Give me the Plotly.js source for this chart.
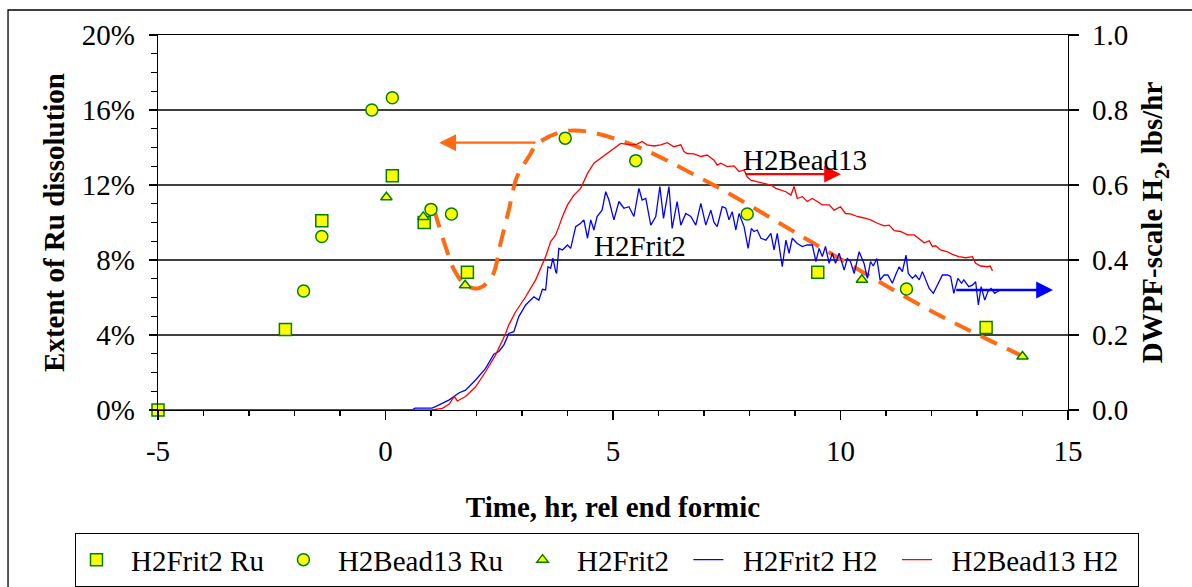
<!DOCTYPE html>
<html>
<head>
<meta charset="utf-8">
<script src="https://cdn.plot.ly/plotly-3.0.1.min.js"></script>
<style>html,body{margin:0;padding:0;background:#fff;}#chart{width:1192px;height:587px;}</style>
</head>
<body>
<div id="chart"></div>
<script>
// Ru dissolution (%), left axis
const frit2RuTime = [-5.0, -2.2, -1.4, 0.15, 0.85, 1.8, 9.5, 13.2];
const frit2RuPct  = [0.0, 4.3, 10.1, 12.5, 10.0, 7.35, 7.35, 4.4];
const bead13RuTime = [-1.8, -1.4, -0.3, 0.15, 1.0, 1.45, 3.95, 5.5, 7.95, 11.45];
const bead13RuPct  = [6.35, 9.25, 16.0, 16.65, 10.7, 10.45, 14.5, 13.3, 10.45, 6.45];
const frit2Time = [0.02, 0.83, 1.75, 10.47, 14.0];
const frit2Pct  = [11.35, 10.3, 6.65, 6.95, 2.85];

// DWPF-scale H2 (lbs/hr), right axis
const frit2H2Time = [-5.0, 0.58, 0.65, 1.02, 1.10, 1.40, 1.62, 1.76, 1.98, 2.20, 2.38, 2.49, 2.60, 2.71, 2.82, 2.93, 3.08, 3.26, 3.37, 3.45, 3.52, 3.57, 3.63, 3.68, 3.74, 3.76, 3.81, 3.89, 4.00, 4.07, 4.18, 4.29, 4.36, 4.44, 4.51, 4.58, 4.65, 4.76, 4.84, 4.91, 5.02, 5.13, 5.24, 5.35, 5.46, 5.57, 5.64, 5.72, 5.83, 5.94, 6.03, 6.11, 6.23, 6.30, 6.41, 6.49, 6.60, 6.71, 6.82, 6.93, 7.04, 7.15, 7.22, 7.29, 7.40, 7.48, 7.55, 7.62, 7.70, 7.77, 7.88, 7.97, 8.04, 8.10, 8.17, 8.25, 8.36, 8.47, 8.54, 8.61, 8.72, 8.80, 8.87, 8.94, 9.05, 9.16, 9.27, 9.38, 9.46, 9.53, 9.60, 9.67, 9.75, 9.82, 9.89, 9.97, 10.08, 10.15, 10.22, 10.30, 10.41, 10.52, 10.59, 10.66, 10.72, 10.80, 10.87, 10.96, 11.04, 11.14, 11.21, 11.29, 11.36, 11.44, 11.49, 11.58, 11.65, 11.73, 11.80, 11.87, 11.95, 12.04, 12.13, 12.24, 12.35, 12.42, 12.49, 12.58, 12.66, 12.71, 12.82, 12.90, 12.97, 13.03, 13.09, 13.17, 13.24, 13.31, 13.39, 13.45, 13.53];
const frit2H2 = [0, 0, 0.005, 0.005, 0.009, 0.027, 0.046, 0.053, 0.080, 0.111, 0.149, 0.156, 0.173, 0.204, 0.209, 0.249, 0.280, 0.302, 0.293, 0.322, 0.320, 0.382, 0.378, 0.405, 0.369, 0.364, 0.431, 0.427, 0.440, 0.431, 0.489, 0.498, 0.507, 0.458, 0.507, 0.480, 0.516, 0.533, 0.582, 0.560, 0.507, 0.556, 0.538, 0.542, 0.516, 0.591, 0.560, 0.564, 0.493, 0.516, 0.596, 0.511, 0.596, 0.484, 0.556, 0.493, 0.524, 0.516, 0.493, 0.551, 0.493, 0.533, 0.500, 0.489, 0.542, 0.538, 0.507, 0.529, 0.480, 0.524, 0.489, 0.431, 0.484, 0.476, 0.480, 0.458, 0.453, 0.471, 0.427, 0.471, 0.382, 0.453, 0.418, 0.458, 0.444, 0.436, 0.440, 0.440, 0.396, 0.431, 0.409, 0.436, 0.391, 0.418, 0.391, 0.418, 0.373, 0.404, 0.396, 0.364, 0.422, 0.390, 0.351, 0.396, 0.384, 0.404, 0.347, 0.360, 0.360, 0.338, 0.360, 0.382, 0.369, 0.413, 0.364, 0.351, 0.360, 0.347, 0.369, 0.347, 0.324, 0.311, 0.333, 0.360, 0.360, 0.356, 0.311, 0.351, 0.338, 0.347, 0.329, 0.333, 0.342, 0.280, 0.329, 0.293, 0.316, 0.324, 0.311, 0.316, 0.320];

const bead13H2Time = [-4.6, 1.02, 1.25, 1.40, 1.51, 1.58, 1.76, 1.98, 2.20, 2.42, 2.64, 2.71, 2.86, 3.08, 3.30, 3.52, 3.63, 3.74, 3.81, 3.89, 4.00, 4.14, 4.29, 4.44, 4.58, 4.73, 4.87, 5.02, 5.17, 5.39, 5.53, 5.64, 5.75, 5.90, 6.05, 6.19, 6.34, 6.49, 6.56, 6.63, 6.78, 6.93, 7.07, 7.22, 7.29, 7.37, 7.51, 7.66, 7.77, 7.88, 7.95, 8.03, 8.17, 8.32, 8.47, 8.58, 8.69, 8.80, 8.91, 8.98, 9.05, 9.16, 9.27, 9.38, 9.49, 9.60, 9.75, 9.86, 10.00, 10.11, 10.22, 10.37, 10.52, 10.66, 10.81, 10.96, 11.07, 11.18, 11.32, 11.47, 11.62, 11.76, 11.84, 11.95, 12.02, 12.09, 12.20, 12.35, 12.46, 12.60, 12.75, 12.90, 12.97, 13.08, 13.22, 13.29, 13.34];
const bead13H2 = [0, 0, 0.0045, 0.016, 0.036, 0.024, 0.036, 0.062, 0.102, 0.147, 0.204, 0.227, 0.262, 0.302, 0.347, 0.409, 0.449, 0.467, 0.489, 0.516, 0.547, 0.573, 0.591, 0.631, 0.658, 0.671, 0.684, 0.698, 0.711, 0.707, 0.709, 0.716, 0.707, 0.704, 0.707, 0.713, 0.702, 0.707, 0.689, 0.684, 0.683, 0.676, 0.680, 0.666, 0.653, 0.658, 0.649, 0.651, 0.636, 0.640, 0.622, 0.613, 0.609, 0.604, 0.600, 0.591, 0.587, 0.582, 0.573, 0.596, 0.564, 0.569, 0.556, 0.564, 0.556, 0.547, 0.547, 0.533, 0.542, 0.524, 0.523, 0.516, 0.512, 0.507, 0.498, 0.491, 0.493, 0.478, 0.476, 0.467, 0.467, 0.453, 0.446, 0.451, 0.436, 0.438, 0.427, 0.422, 0.415, 0.409, 0.406, 0.409, 0.391, 0.384, 0.382, 0.384, 0.371];

// hand-drawn trend (dashed orange), left axis %
const trendTime = [1.07, 1.32, 1.51, 1.76, 2.05, 2.34, 2.53, 2.71, 2.89, 3.15, 3.35, 4.04, 5.24, 7.14, 9.41, 11.68, 12.81, 14.1];
const trendPct  = [10.67, 8.71, 7.47, 6.67, 6.49, 7.11, 8.91, 10.67, 12.44, 13.51, 14.22, 14.9, 14.31, 12.09, 8.89, 5.69, 4.27, 2.76];

const xTicks = [-5, 0, 5, 10, 15];
const leftTicks = [0, 4, 8, 12, 16, 20];
const rightTicks = [0, 0.2, 0.4, 0.6, 0.8, 1.0];

const FONT = '"Liberation Serif", "Times New Roman", serif';
const FS = 29;
const mkLine = '#008000';
const NB = '\u00a0\u00a0';
const lg = s => NB + s + NB;

const traces = [
  {x: frit2H2Time, y: frit2H2, yaxis: 'y2', name: lg('H2Frit2 H2'), mode: 'lines',
   line: {color: '#0000ff', width: 1.3}, legendrank: 4},
  {x: bead13H2Time, y: bead13H2, yaxis: 'y2', name: lg('H2Bead13 H2'), mode: 'lines',
   line: {color: '#ff0000', width: 1.3}, legendrank: 5},
  {x: trendTime, y: trendPct, yaxis: 'y', mode: 'lines', showlegend: false, hoverinfo: 'skip',
   line: {color: '#ff6a13', width: 4, dash: '18px,11px', shape: 'spline', smoothing: 1}},
  {x: frit2RuTime, y: frit2RuPct, yaxis: 'y', name: lg('H2Frit2 Ru'), mode: 'markers', cliponaxis: false,
   marker: {symbol: 'square', size: 12, color: '#ffff00', line: {color: mkLine, width: 1.5}}, legendrank: 1},
  {x: bead13RuTime, y: bead13RuPct, yaxis: 'y', name: lg('H2Bead13 Ru'), mode: 'markers', cliponaxis: false,
   marker: {symbol: 'circle', size: 12, color: '#ffff00', line: {color: mkLine, width: 1.5}}, legendrank: 2},
  {x: frit2Time, y: frit2Pct, yaxis: 'y', name: lg('H2Frit2'), mode: 'markers', cliponaxis: false,
   marker: {symbol: 'triangle-up', size: 10, color: '#ffff00', line: {color: mkLine, width: 1.5}}, legendrank: 3}
];

const layout = {
  width: 1192, height: 587,
  margin: {l: 158, r: 124, t: 35, b: 177, autoexpand: false},
  paper_bgcolor: '#ffffff', plot_bgcolor: '#ffffff',
  font: {family: FONT, size: FS, color: '#000'},
  showlegend: true,
  xaxis: {
    range: [-5, 15], tickvals: xTicks, ticktext: xTicks.map(String),
    showgrid: false, zeroline: false, showline: true, linecolor: '#000', linewidth: 1.3,
    mirror: true,
    ticks: 'outside', ticklen: 9, tickwidth: 1.3, tickcolor: '#000',
    minor: {dtick: 1, ticks: 'outside', ticklen: 5, tickwidth: 1.3, tickcolor: '#000', showgrid: false},
    tickfont: {family: FONT, size: FS}, ticklabelstandoff: 6,
    title: {text: '<b>Time, hr, rel end formic</b>', font: {family: FONT, size: FS}, standoff: 30}
  },
  yaxis: {
    range: [0, 20], tickvals: leftTicks, ticktext: leftTicks.map(v => v + '%'),
    showgrid: true, gridcolor: '#404040', gridwidth: 1.2, zeroline: false,
    showline: true, linecolor: '#000', linewidth: 1.3,
    ticks: 'outside', ticklen: 8, tickwidth: 1.3, tickcolor: '#000',
    minor: {dtick: 1, ticks: 'outside', ticklen: 6, tickwidth: 1.3, tickcolor: '#000', showgrid: false},
    tickfont: {family: FONT, size: FS}, ticklabelstandoff: 8,
    title: {text: '<b>Extent of Ru dissolution</b>', font: {family: FONT, size: FS}, standoff: 8}
  },
  yaxis2: {
    range: [0, 1], overlaying: 'y', side: 'right',
    tickvals: rightTicks, ticktext: rightTicks.map(v => v.toFixed(1)),
    showgrid: false, zeroline: false, showline: true, linecolor: '#000', linewidth: 1.3,
    ticks: 'outside', ticklen: 10, tickwidth: 1.3, tickcolor: '#000',
    tickfont: {family: FONT, size: FS}, ticklabelstandoff: 7,
    title: {text: '<b>DWPF-scale H<sub>2</sub>, lbs/hr</b>', font: {family: FONT, size: FS}, standoff: 14}
  },
  legend: {
    orientation: 'h', x: -0.091, xanchor: 'left', y: -0.328, yanchor: 'top',
    bordercolor: '#000', borderwidth: 1.3, bgcolor: '#fff',
    font: {family: FONT, size: 29}, traceorder: 'normal', itemwidth: 30
  },
  annotations: [
    {x: 1.18, y: 14.26, xref: 'x', yref: 'y', ax: 3.33, ay: 14.26, axref: 'x', ayref: 'y',
     text: '', showarrow: true, arrowhead: 2, arrowsize: 1.4, arrowwidth: 2.4, arrowcolor: '#ff6a13'},
    {x: 10.01, y: 0.629, xref: 'x', yref: 'y2', ax: 7.88, ay: 0.629, axref: 'x', ayref: 'y2',
     text: '', showarrow: true, arrowhead: 2, arrowsize: 1.4, arrowwidth: 2.4, arrowcolor: '#ff0000'},
    {x: 14.67, y: 0.32, xref: 'x', yref: 'y2', ax: 12.51, ay: 0.32, axref: 'x', ayref: 'y2',
     text: '', showarrow: true, arrowhead: 2, arrowsize: 1.4, arrowwidth: 2.4, arrowcolor: '#0000ff'},
    {x: 9.22, y: 0.667, xref: 'x', yref: 'y2', text: 'H2Bead13', showarrow: false,
     font: {family: FONT, size: FS, color: '#000'}},
    {x: 5.6, y: 0.437, xref: 'x', yref: 'y2', text: 'H2Frit2', showarrow: false,
     font: {family: FONT, size: FS, color: '#000'}}
  ],
  shapes: [
    {type: 'rect', xref: 'paper', yref: 'paper', x0: -0.1648, x1: 1.2, y0: -0.6, y1: 1.0667,
     line: {color: '#000', width: 1.3}, fillcolor: 'rgba(0,0,0,0)', layer: 'below'}
  ]
};

Plotly.newPlot('chart', traces, layout, {staticPlot: true, displayModeBar: false});
</script>
</body>
</html>
